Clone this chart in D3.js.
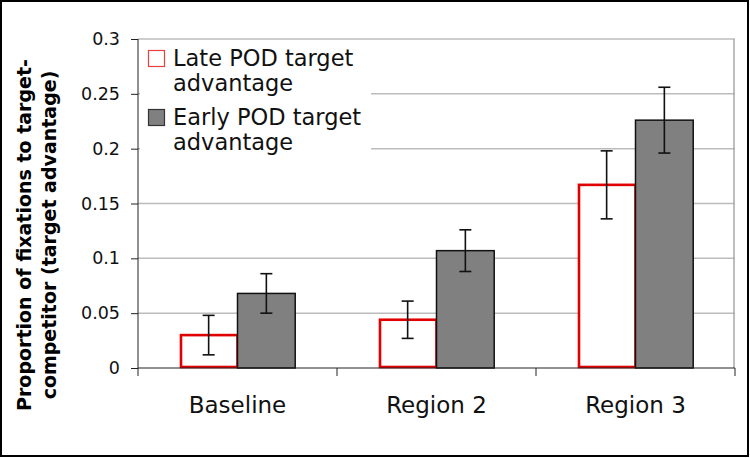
<!DOCTYPE html>
<html>
<head>
<meta charset="utf-8">
<script src="https://cdn.jsdelivr.net/npm/d3@7"></script>
<style>
  html, body { margin: 0; padding: 0; background: #fff; }
  svg { display: block; font-family: Verdana, "DejaVu Sans", sans-serif; }
</style>
</head>
<body>
<svg id="chart" width="750" height="458"></svg>
<script>
// ---- data ----
const categories = ["Baseline", "Region 2", "Region 3"];
const seriesNames = ["Late POD target advantage", "Early POD target advantage"];
const lateValues = [0.030, 0.044, 0.167];
const earlyValues = [0.068, 0.107, 0.226];
const lateErrors = [0.018, 0.017, 0.031];
const earlyErrors = [0.018, 0.019, 0.030];
const yTicks = [0, 0.05, 0.1, 0.15, 0.2, 0.25, 0.3];
const yTickLabels = ["0", "0.05", "0.1", "0.15", "0.2", "0.25", "0.3"];
const yTitleLines = ["Proportion of fixations to target-", "competitor (target advantage)"];
const legendLines = [["Late POD target", "advantage"], ["Early POD target", "advantage"]];

(function () {
const svg = d3.select("#chart");
const pL = 138, pR = 735, pT = 39, pB = 368;

// outer frame
svg.append("rect").attr("x", 1).attr("y", 1).attr("width", 747).attr("height", 455)
  .attr("fill", "#fff").attr("stroke", "#000").attr("stroke-width", 2);

const y = d3.scaleLinear().domain([0, 0.3]).range([pB, pT]);
const x0 = d3.scaleBand().domain(categories).range([pL, pR]).paddingInner(0.42).paddingOuter(0.21);
const x1 = d3.scaleBand().domain([0, 1]).range([0, x0.bandwidth()]);

// gridlines
svg.append("g").selectAll("line").data(yTicks.slice(1)).join("line")
  .attr("x1", pL).attr("x2", pR)
  .attr("y1", d => y(d)).attr("y2", d => y(d))
  .attr("stroke", "#bcbcbc").attr("stroke-width", 1.5);
// right border of plot area
svg.append("line").attr("x1", pR - 1).attr("x2", pR - 1).attr("y1", pT).attr("y2", pB)
  .attr("stroke", "#a8a8a8").attr("stroke-width", 1.5);

// legend background
svg.append("rect").attr("x", 140).attr("y", 41).attr("width", 231).attr("height", 120).attr("fill", "#fff");

// y axis
const yAxis = d3.axisLeft(y).tickValues(yTicks).tickFormat((d, i) => yTickLabels[i]).tickSize(7).tickPadding(11);
const gy = svg.append("g").attr("transform", `translate(${pL},0)`).call(yAxis);
gy.select(".domain").attr("stroke", "#222").attr("d", `M0,${pT}V${pB}`);
gy.selectAll(".tick line").attr("stroke", "#222");
gy.selectAll(".tick text").attr("font-size", 17.5).attr("fill", "#111")
  .attr("font-family", 'Verdana, "DejaVu Sans", sans-serif');

// bars
const groups = svg.append("g").selectAll("g").data(categories).join("g")
  .attr("transform", d => `translate(${x0(d)},0)`);

groups.append("rect")
  .attr("x", x1(0) + 1.2).attr("width", x1.bandwidth() - 1.2)
  .attr("y", (d, i) => y(lateValues[i])).attr("height", (d, i) => y(0) - y(lateValues[i]) - 1)
  .attr("fill", "#fff").attr("stroke", "#e00000").attr("stroke-width", 2.6);

groups.append("rect")
  .attr("x", x1(1)).attr("width", x1.bandwidth())
  .attr("y", (d, i) => y(earlyValues[i])).attr("height", (d, i) => y(0) - y(earlyValues[i]))
  .attr("fill", "#808080").attr("stroke", "#111").attr("stroke-width", 1.5);

// error bars
groups.each(function (d) {
  const idx = categories.indexOf(d);
  const sub = d3.select(this).append("g");
  [[0, lateValues, lateErrors], [1, earlyValues, earlyErrors]].forEach(([s, vals, errs]) => {
    const cx = x1(s) + x1.bandwidth() / 2;
    const yt = y(vals[idx] + errs[idx]), yb = y(vals[idx] - errs[idx]);
    const eg = sub.append("g").attr("stroke", "#111").attr("stroke-width", 1.6);
    eg.append("line").attr("x1", cx).attr("x2", cx).attr("y1", yt).attr("y2", yb);
    eg.append("line").attr("x1", cx - 6).attr("x2", cx + 6).attr("y1", yt).attr("y2", yt);
    eg.append("line").attr("x1", cx - 6).attr("x2", cx + 6).attr("y1", yb).attr("y2", yb);
  });
});

// x axis
svg.append("line").attr("x1", pL).attr("x2", pR).attr("y1", pB).attr("y2", pB)
  .attr("stroke", "#222").attr("stroke-width", 1);
svg.append("g").selectAll("line").data([0, 1, 2, 3]).join("line")
  .attr("x1", d => pL + d * x0.step()).attr("x2", d => pL + d * x0.step())
  .attr("y1", pB).attr("y2", pB + 8)
  .attr("stroke", "#222");
svg.append("g").selectAll("text").data(categories).join("text")
  .attr("x", d => x0(d) + x0.bandwidth() / 2).attr("y", 413)
  .attr("text-anchor", "middle").attr("font-size", 23).attr("fill", "#111").text(d => d);

// legend
const legendY = [66, 125];
legendLines.forEach((lines, k) => {
  const sy = legendY[k] - 16;
  if (k === 0) {
    svg.append("rect").attr("x", 148.5).attr("y", sy + 0.5).attr("width", 16).attr("height", 16)
      .attr("fill", "#fff").attr("stroke", "#e84040").attr("stroke-width", 1.2);
  } else {
    svg.append("rect").attr("x", 148.5).attr("y", sy + 0.5).attr("width", 16).attr("height", 16)
      .attr("fill", "#808080").attr("stroke", "#333").attr("stroke-width", 1.2);
  }
  lines.forEach((t, j) => {
    svg.append("text").attr("x", 173).attr("y", legendY[k] + j * 25)
      .attr("font-size", 22.5).attr("fill", "#111").text(t);
  });
});

// y title
const ytl = svg.append("text").attr("transform", "translate(0,235) rotate(-90)")
  .attr("text-anchor", "middle").attr("font-weight", "bold").attr("font-size", 19).attr("fill", "#000");
yTitleLines.forEach((t, j) => {
  ytl.append("tspan").attr("x", 0).attr("y", 31 + j * 24.5).text(t);
});
})();
</script>
</body>
</html>
